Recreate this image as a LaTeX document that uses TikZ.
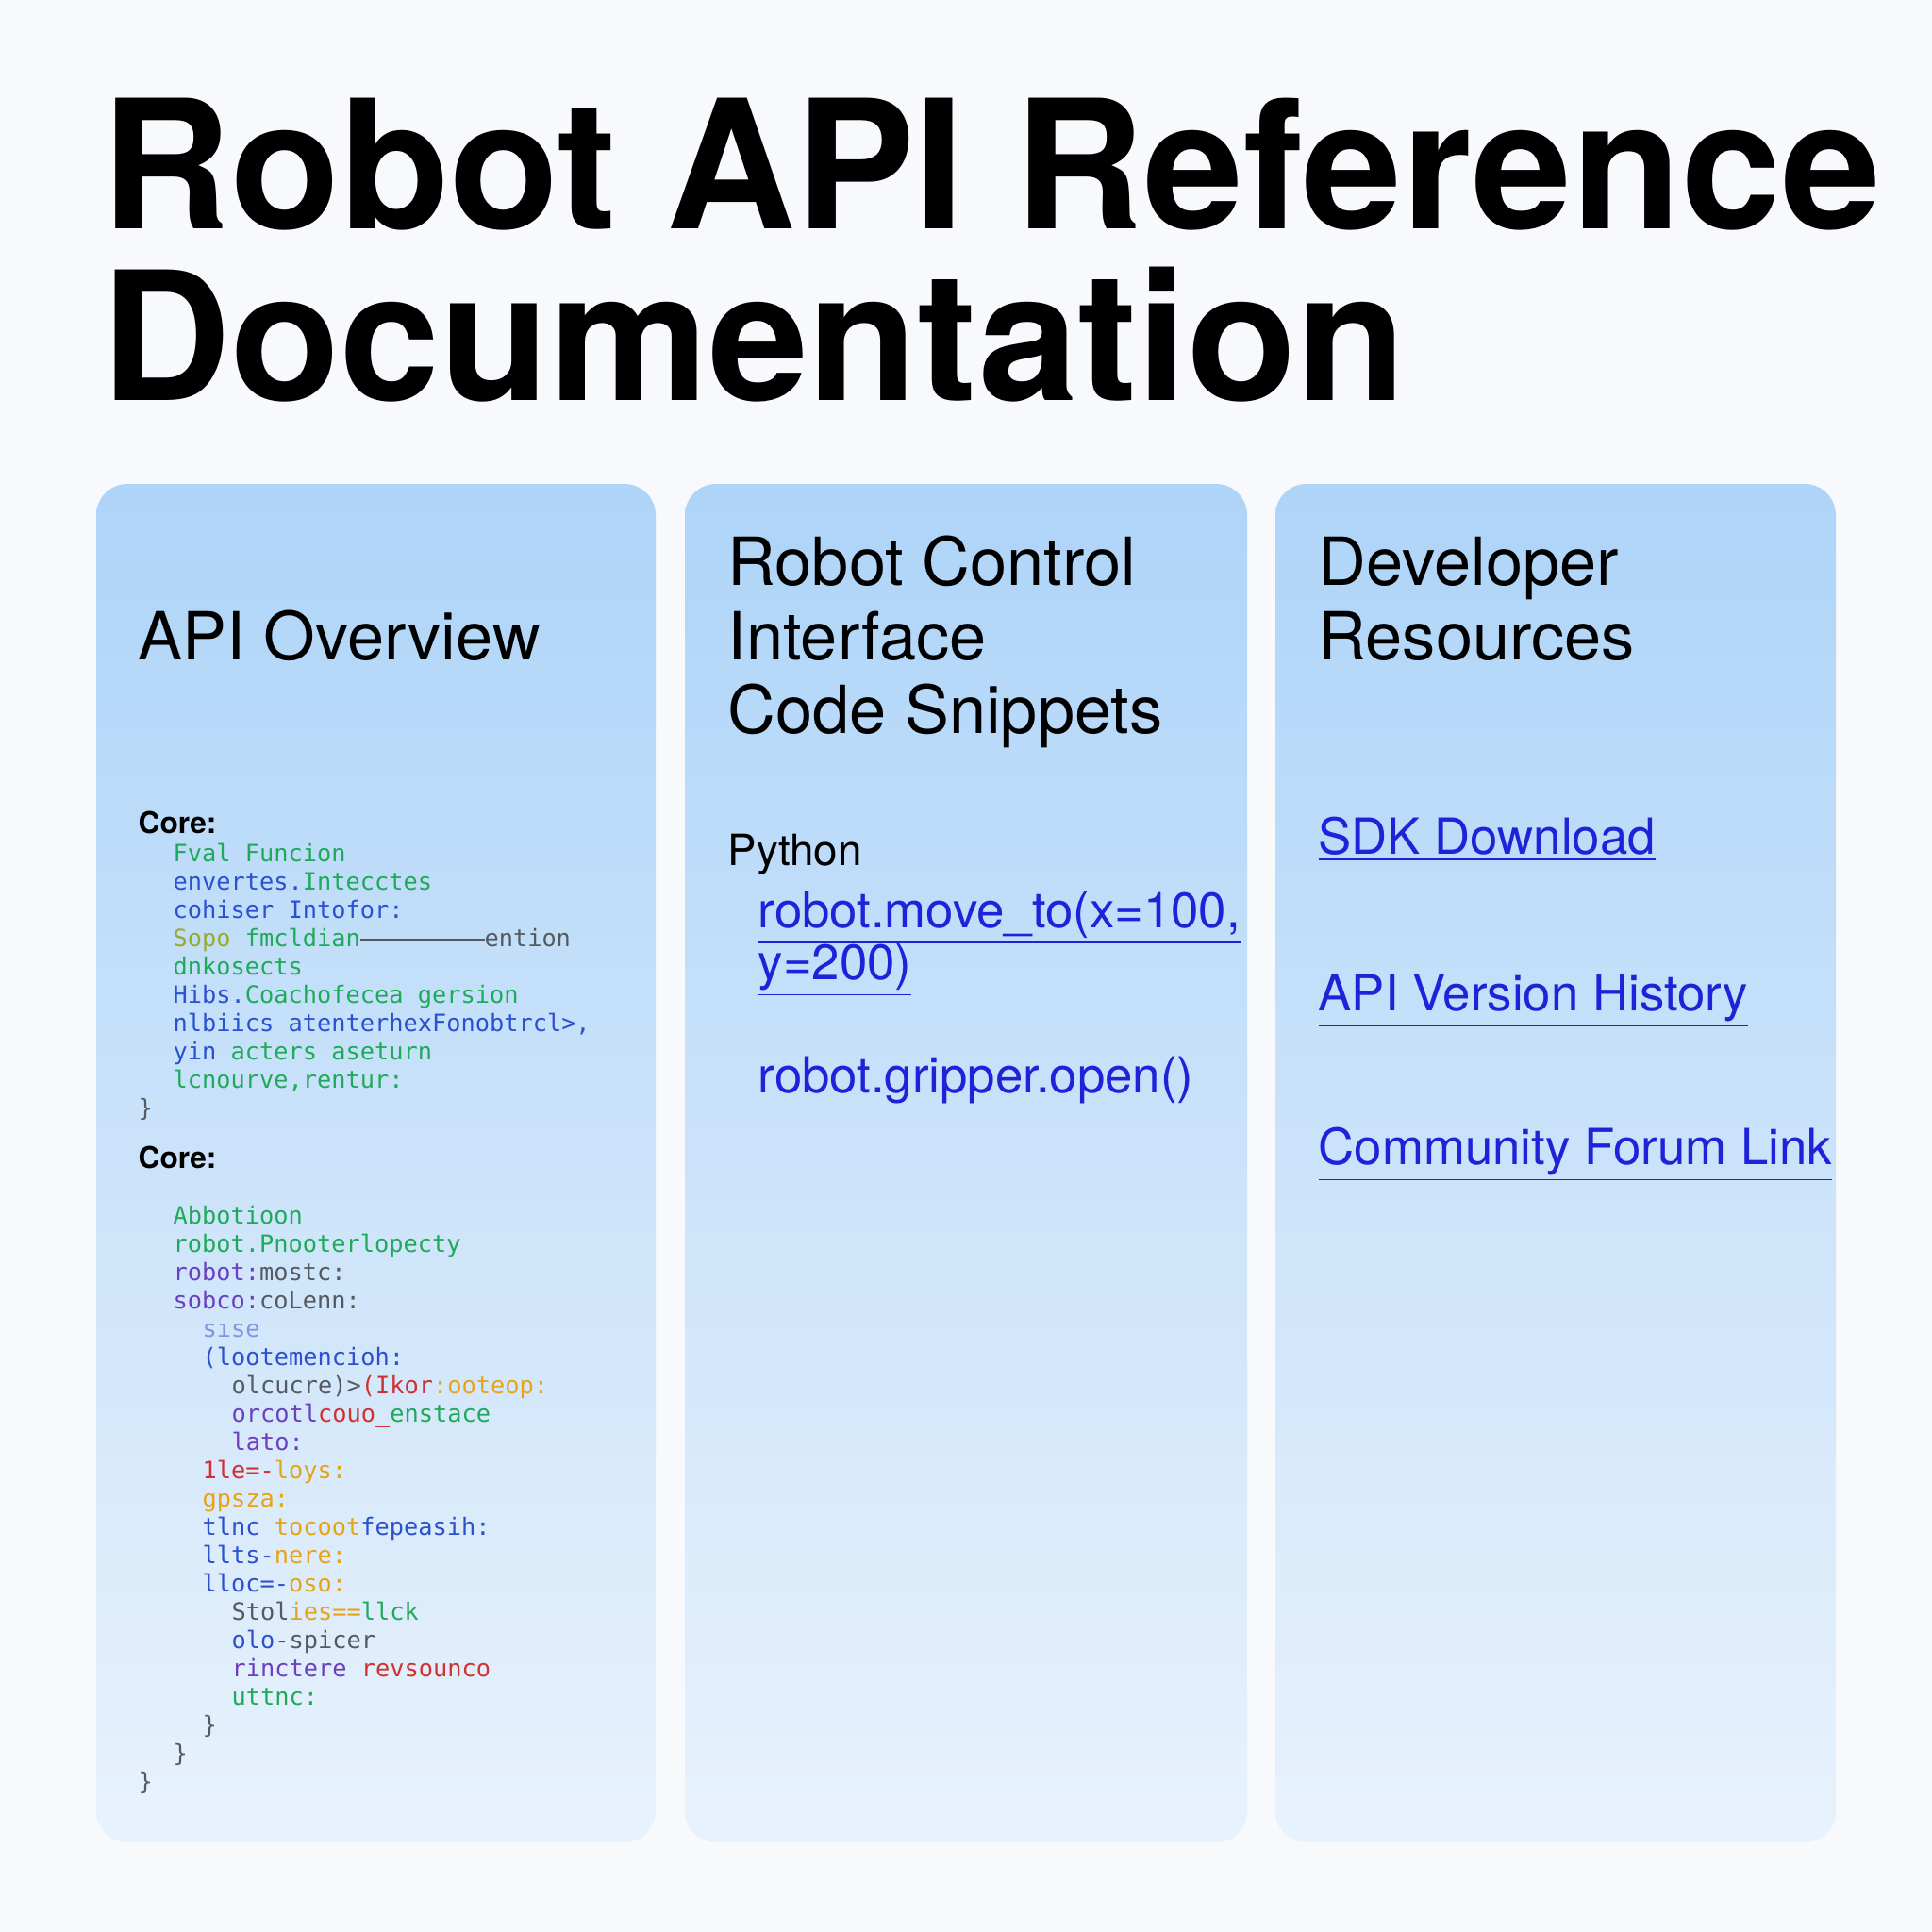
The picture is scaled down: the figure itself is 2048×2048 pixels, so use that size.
\documentclass[tikz,border=0pt]{standalone}
\usepackage{fontspec}
\setmainfont{TeX Gyre Heros}
\setmonofont{DejaVu Sans Mono}
\usepackage{xcolor}
\usetikzlibrary{positioning}

\definecolor{pagebg}{HTML}{F7F9FC}
\definecolor{paneltop}{HTML}{AED4F8}
\definecolor{panelbot}{HTML}{E8F2FC}
\definecolor{linkblue}{HTML}{1E22D8}
\definecolor{cgreen}{HTML}{1FAA5A}
\definecolor{cblue}{HTML}{2B50D0}
\definecolor{cpurple}{HTML}{6A3FC0}
\definecolor{cgray}{HTML}{555A60}
\definecolor{corange}{HTML}{E8A317}
\definecolor{cred}{HTML}{D03030}
\definecolor{colive}{HTML}{9AAA30}

\newcommand{\weblink}[1]{\textcolor{linkblue}{\underline{#1}}}

\tikzset{
  txt/.style={anchor=base west, inner sep=0pt},
  titletxt/.style={txt, font=\fontsize{54}{60}\selectfont\bfseries},
  headtxt/.style={txt, font=\fontsize{20}{24}\selectfont},
  linktxt/.style={txt, font=\fontsize{15}{18}\selectfont},
  labeltxt/.style={txt, font=\fontsize{9}{11}\selectfont\bfseries},
  codetxt/.style={txt, font=\ttfamily\fontsize{7.2}{9}\selectfont},
  panel/.style={top color=paneltop, bottom color=panelbot, rounded corners=0.33cm}
}

\begin{document}
\begin{tikzpicture}[x=0.01cm, y=-0.01cm]
\useasboundingbox (0,0) rectangle (2048,2048);
\fill[pagebg] (0,0) rectangle (2048,2048);

% --- Title ---
\node[titletxt] (title1) at (107,242) {Robot API Reference};
\node[titletxt] (title2) at (107,424) {Documentation};

% --- Panels ---
\shade[panel] (102,513) rectangle (695,1953);
\shade[panel] (726,513) rectangle (1322,1953);
\shade[panel] (1352,513) rectangle (1946,1953);

% --- API Overview ---
\node[headtxt] (overview) at (146,699) {API Overview};
\node[labeltxt] (core1) at (146,883) {Core:};
\node[codetxt] (c1) at (183,913) {\textcolor{cgreen}{Fval Funcion}};
\node[codetxt] (c2) at (183,943) {\textcolor{cblue}{envertes.}\textcolor{cgreen}{Intecctes}};
\node[codetxt] (c3) at (183,973) {\textcolor{cblue}{cohiser Intofor:}};
\node[codetxt] (c4) at (183,1003) {\textcolor{colive}{Sopo} \textcolor{cgreen}{fmcldian}\textcolor{cgray}{\rule[0.25em]{5.2em}{0.4pt}ention}};
\node[codetxt] (c5) at (183,1033) {\textcolor{cgreen}{dnkosects}};
\node[codetxt] (c6) at (183,1063) {\textcolor{cblue}{Hibs.}\textcolor{cgreen}{Coachofecea gersion}};
\node[codetxt] (c7) at (183,1093) {\textcolor{cblue}{nlbiics atenterhexFonobtrcl>,}};
\node[codetxt] (c8) at (183,1123) {\textcolor{cblue}{yin} \textcolor{cgreen}{acters aseturn}};
\node[codetxt] (c9) at (183,1153) {\textcolor{cgreen}{lcnourve,rentur:}};
\node[codetxt] (c10) at (146,1183) {\textcolor{cgray}{\}}};
\node[labeltxt] (core2) at (146,1238) {Core:};
\node[codetxt] (d1) at (183,1297) {\textcolor{cgreen}{Abbotioon}};
\node[codetxt] (d2) at (183,1327) {\textcolor{cgreen}{robot.Pnooterlopecty}};
\node[codetxt] (d3) at (183,1357) {\textcolor{cpurple}{robot:}\textcolor{cgray}{mostc:}};
\node[codetxt] (d4) at (183,1387) {\textcolor{cpurple}{sobco:}\textcolor{cgray}{coLenn:}};
\node[codetxt] (d5) at (214,1417) {\textcolor{cblue!60}{sıse}};
\node[codetxt] (d6) at (214,1447) {\textcolor{cblue}{(lootemencioh:}};
\node[codetxt] (d7) at (245,1477) {\textcolor{cgray}{olcucre)>}\textcolor{cred}{(Ikor}\textcolor{corange}{:ooteop:}};
\node[codetxt] (d8) at (245,1507) {\textcolor{cpurple}{orcotl}\textcolor{cred}{couo\_}\textcolor{cgreen}{enstace}};
\node[codetxt] (d9) at (245,1537) {\textcolor{cpurple}{lato:}};
\node[codetxt] (d10) at (214,1567) {\textcolor{cred}{1le=-}\textcolor{corange}{loys:}};
\node[codetxt] (d11) at (214,1597) {\textcolor{corange}{gpsza:}};
\node[codetxt] (d12) at (214,1627) {\textcolor{cblue}{tlnc} \textcolor{corange}{tocoot}\textcolor{cblue}{fepeasih:}};
\node[codetxt] (d13) at (214,1657) {\textcolor{cblue}{llts-}\textcolor{corange}{nere:}};
\node[codetxt] (d14) at (214,1687) {\textcolor{cblue}{lloc=-}\textcolor{corange}{oso:}};
\node[codetxt] (d15) at (245,1717) {\textcolor{cgray}{Stol}\textcolor{corange}{ies==}\textcolor{cgreen}{llck}};
\node[codetxt] (d16) at (245,1747) {\textcolor{cblue}{olo-}\textcolor{cgray}{spicer}};
\node[codetxt] (d17) at (245,1777) {\textcolor{cpurple}{rinctere} \textcolor{cred}{revsounco}};
\node[codetxt] (d18) at (245,1807) {\textcolor{cgreen}{uttnc:}};
\node[codetxt] (d19) at (214,1837) {\textcolor{cgray}{\}}};
\node[codetxt] (d20) at (183,1867) {\textcolor{cgray}{\}}};
\node[codetxt] (d21) at (146,1897) {\textcolor{cgray}{\}}};

% --- Robot Control Interface ---
\node[headtxt] (ctrl1) at (771,620) {Robot Control};
\node[headtxt] (ctrl2) at (771,699) {Interface};
\node[headtxt] (ctrl3) at (771,777) {Code Snippets};
\node[txt, font=\fontsize{13}{16}\selectfont] (python) at (771,917) {Python};
\node[linktxt] (move1) at (803,983) {\weblink{robot.move\_to(x=100,}};
\node[linktxt] (move2) at (803,1038) {\weblink{y=200)}};
\node[linktxt] (grip) at (803,1158) {\weblink{robot.gripper.open()}};

% --- Developer Resources ---
\node[headtxt] (dev1) at (1397,620) {Developer};
\node[headtxt] (dev2) at (1397,699) {Resources};
\node[linktxt] (sdk) at (1397,905) {\weblink{SDK Download}};
\node[linktxt] (hist) at (1397,1071) {\weblink{API Version History}};
\node[linktxt] (forum) at (1397,1234) {\weblink{Community Forum Link}};

\end{tikzpicture}
\end{document}
